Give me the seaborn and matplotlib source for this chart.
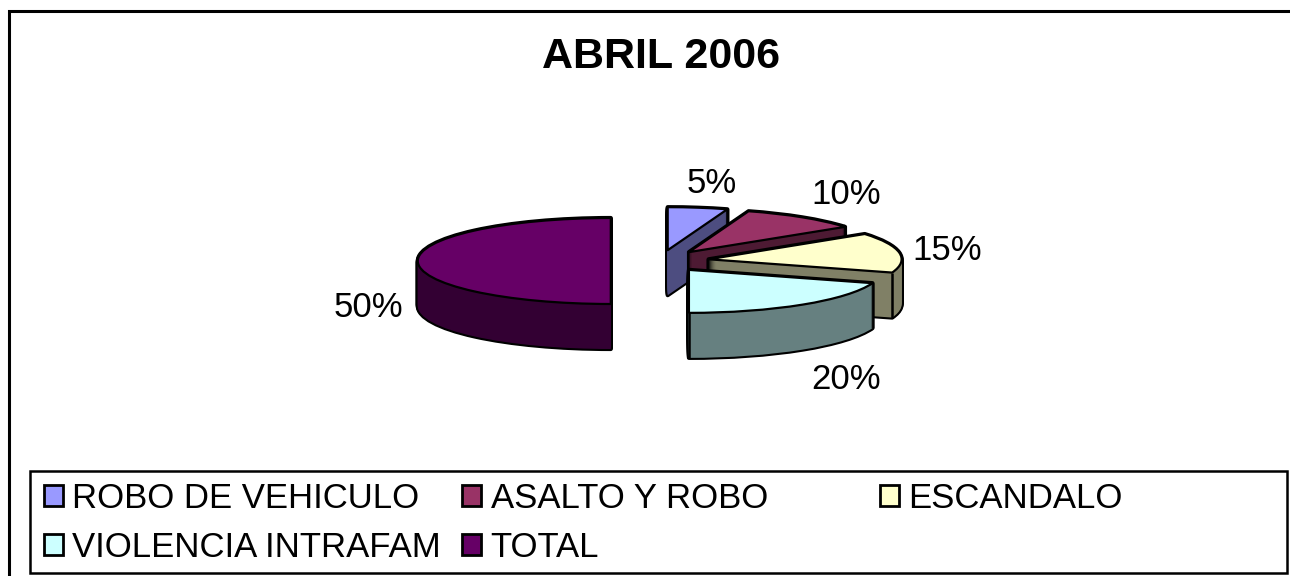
import matplotlib
matplotlib.use("Agg")
import matplotlib.pyplot as plt
from matplotlib.patches import Patch, Rectangle
import numpy as np
import seaborn as sns

categories = ["ROBO DE VEHICULO", "ASALTO Y ROBO", "ESCANDALO", "VIOLENCIA INTRAFAM", "TOTAL"]
values = [5, 10, 15, 20, 50]
colors = ["#9999FF", "#993366", "#FFFFCC", "#CCFFFF", "#660066"]
title = "ABRIL 2006"

# layout, in reference pixels
W, H = 1290, 576
CX, CY = 660, 261
RX, RY = 193, 43
DEPTH = 45
EXPLODE = 0.255
label_px = [(712, 184), (846, 195), (947, 251), (846, 380), (368, 308)]

sns.set_theme(style="white")
plt.rcParams["font.family"] = ["Liberation Sans", "DejaVu Sans"]
palette = sns.color_palette(colors)
walls = [tuple(c * 0.5 for c in col) for col in palette]

fig = plt.figure(figsize=(W / 100, H / 100), dpi=100, facecolor="white")
ax = fig.add_axes([0, 0, 1, 1])

explode = [EXPLODE] * len(values)
pie_kw = dict(explode=explode, startangle=90, counterclock=False, radius=1.0)
depth_units = DEPTH / RY

# side walls: a black silhouette stack beneath a dark fill stack
for step in range(DEPTH, -1, -1):
    c = (0, -depth_units * step / DEPTH)
    under, _ = ax.pie(values, colors=["black"] * 5, center=c,
                      wedgeprops=dict(edgecolor="black", linewidth=3, joinstyle="round"), **pie_kw)
    over, _ = ax.pie(values, colors=walls, center=c,
                     wedgeprops=dict(edgecolor="none", linewidth=0), **pie_kw)
    for i, (u, o) in enumerate(zip(under, over)):
        u.set_zorder(10 * (i + 1))
        o.set_zorder(10 * (i + 1) + 1)

# top faces with percentage labels
tops, _, autotexts = ax.pie(values, colors=palette, autopct="%.0f%%",
                            wedgeprops=dict(edgecolor="black", linewidth=1.6, joinstyle="round"),
                            **pie_kw)
for i, w in enumerate(tops):
    w.set_zorder(10 * (i + 1) + 3)
    # ridge line where the far end of each slice turns the corner
    a = np.deg2rad(w.theta1)
    x = w.center[0] + w.r * np.cos(a)
    y = w.center[1] + w.r * np.sin(a)
    ax.plot([x, x], [y, y - depth_units], color="black", lw=1.8, zorder=10 * (i + 1) + 2,
            solid_capstyle="butt")

ax.set_aspect("auto")
ax.set_xlim(-CX / RX, (W - CX) / RX)
ax.set_ylim((CY - H) / RY, CY / RY)

for t, (px, py) in zip(autotexts, label_px):
    t.set_position(((px - CX) / RX, (CY - py) / RY))
    t.set_fontsize(25)
    t.set_color("black")
    t.set_ha("center")
    t.set_va("center")
    t.set_zorder(200)

# outer frame, cut by the right and bottom image edges
fig.add_artist(Rectangle((9 / W, -0.1), 1.2, 1.1 - 11 / H, transform=fig.transFigure,
                         fill=False, edgecolor="black", linewidth=2.2))

fig.text(661 / W, 1 - 57 / H, title, ha="center", va="center",
         fontsize=31, fontweight="bold", color="black")

# legend box
fig.add_artist(Rectangle((30 / W, 1 - 573 / H), 1257 / W, 102 / H, transform=fig.transFigure,
                         facecolor="white", edgecolor="black", linewidth=1.8, zorder=5))

# legend, filled by columns: 2, 2, 1
order = [0, 3, 1, 4, 2]
handles = [Patch(facecolor=palette[i], edgecolor="black", linewidth=2) for i in order]
leg = fig.legend(handles, [categories[i] for i in order], ncols=3,
                 loc="lower left", bbox_to_anchor=(44 / W, 1 - 564 / H),
                 bbox_transform=fig.transFigure, borderaxespad=0,
                 fontsize=25, frameon=False, labelcolor="black",
                 handlelength=0.54, handleheight=0.54,
                 handletextpad=0.28, columnspacing=0.6, labelspacing=0.46,
                 borderpad=0)
leg._legend_handle_box.mode = "equal"
leg.set_zorder(6)

fig.savefig("out.png", dpi=100, facecolor="white")
